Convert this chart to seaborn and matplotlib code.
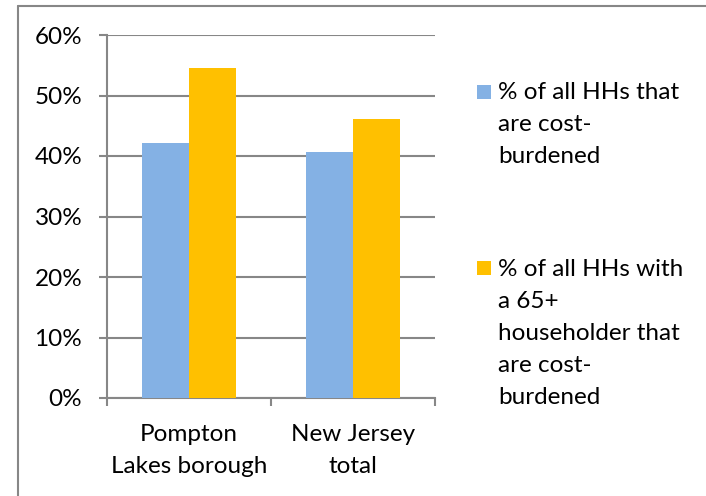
import matplotlib
matplotlib.use("Agg")
import matplotlib.pyplot as plt
import seaborn as sns
import pandas as pd
from matplotlib.patches import Rectangle
from matplotlib.lines import Line2D
from matplotlib.ticker import FixedLocator, FuncFormatter

# ---- data ----
categories = ["Pompton\nLakes borough", "New Jersey\ntotal"]
series_names = [
    "% of all HHs that\nare cost-\nburdened",
    "% of all HHs with\na 65+\nhouseholder that\nare cost-\nburdened",
]
all_hh = [42.2, 40.6]
senior_hh = [54.5, 46.1]
y_ticks = [0, 10, 20, 30, 40, 50, 60]
colors = ["#84B1E4", "#FFC000"]

sns.set_theme(style="white")
plt.rcParams['font.family'] = ['Lato', 'DejaVu Sans']

W, H = 706, 496
GRAY = "#878787"
FS = 17.5
LS = 1.64

fig = plt.figure(figsize=(W / 100, H / 100), dpi=100)
fig.patch.set_facecolor("white")
ax = fig.add_axes([107 / W, 1 - 398 / H, 328 / W, 363 / H])

df = pd.DataFrame({
    "cat": categories * 2,
    "series": [s for s in series_names for _ in categories],
    "val": all_hh + senior_hh,
})
sns.barplot(data=df, x="cat", y="val", hue="series", hue_order=series_names,
            order=categories, palette=colors, width=0.573, gap=0,
            saturation=1, errorbar=None, legend=False, ax=ax, zorder=3,
            linewidth=0, edgecolor="none")

ax.set_xlim(-0.5, 1.5)
ax.set_ylim(0, 60)
ax.set_xlabel("")
ax.set_ylabel("")
ax.set_axisbelow(True)
ax.yaxis.set_major_locator(FixedLocator(y_ticks))
ax.yaxis.set_major_formatter(FuncFormatter(lambda v, p: f"{v:.0f}%"))
ax.yaxis.grid(True, color=GRAY, lw=1.5)
ax.xaxis.grid(False)

for s in ["top", "right"]:
    ax.spines[s].set_visible(False)
for s in ["left", "bottom"]:
    ax.spines[s].set_color(GRAY)
    ax.spines[s].set_linewidth(1.5)

ax.tick_params(axis="y", which="major", left=True, length=5.8, width=1.5,
               color=GRAY, pad=12, labelsize=FS, labelcolor="black")
ax.xaxis.set_minor_locator(FixedLocator([-0.5, 0.5, 1.5]))
ax.tick_params(axis="x", which="minor", bottom=True, length=6, width=1.5,
               color=GRAY, direction="out")
ax.tick_params(axis="x", which="major", bottom=False, length=0, pad=19,
               labelsize=FS, labelcolor="black")
for t in ax.get_xticklabels():
    t.set_linespacing(LS)

# figure frame (top and left edges visible)
fig.add_artist(Line2D([18 / W, 1], [1 - 6 / H, 1 - 6 / H], transform=fig.transFigure,
                      color=GRAY, lw=1.5))
fig.add_artist(Line2D([18 / W, 18 / W], [1 - 6 / H, 0], transform=fig.transFigure,
                      color=GRAY, lw=1.5))

# legend
leg_pos = [(85, 82), (261, 259)]
for (sq_top, txt_top), name, col in zip(leg_pos, series_names, colors):
    fig.add_artist(Rectangle((477 / W, 1 - (sq_top + 14) / H), 14 / W, 14 / H,
                             transform=fig.transFigure, color=col, lw=0))
    fig.text(498 / W, 1 - txt_top / H, name, va="top", ha="left",
             fontsize=FS, linespacing=LS, color="black")

fig.savefig("out.png", dpi=100)
